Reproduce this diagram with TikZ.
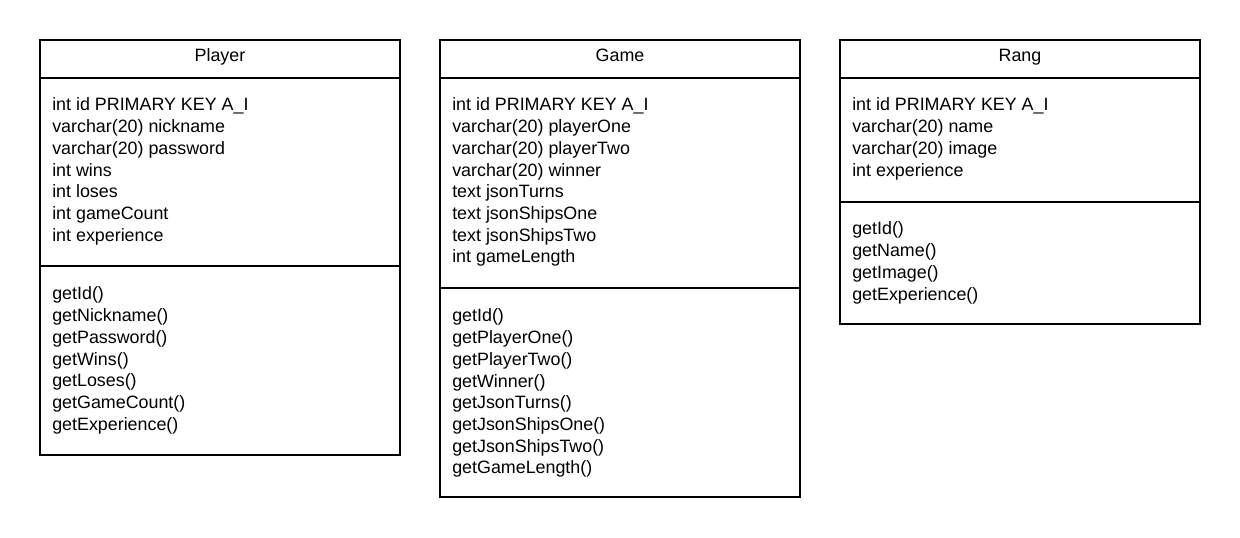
\documentclass[tikz,border=0pt]{standalone}
\usepackage{fontspec}
\setmainfont{Liberation Sans}
\tikzset{
  classbox/.style={draw, line width=1.5pt, minimum width=270pt, anchor=north west, inner sep=0pt, outer sep=0pt},
  divider/.style={line width=1.5pt},
  title/.style={anchor=base, inner sep=0pt, font=\fontsize{13.4}{15}\selectfont},
  member/.style={anchor=base west, inner sep=0pt, font=\fontsize{13.4}{15}\selectfont}
}
\begin{document}
\begin{tikzpicture}[x=0.75pt,y=-0.75pt]
  \useasboundingbox (0,0) rectangle (1240,538);
  % Player
  \node[classbox, minimum height=311.25pt] (player) at (40,40) {};
  \coordinate (pl-h) at (40,78);
  \coordinate (pl-m) at (40,266);
  \draw[divider] (pl-h) -- (pl-h -| player.east);
  \draw[divider] (pl-m) -- (pl-m -| player.east);
  \node[title] (pl-title) at (220,62) {Player};
  \foreach \txt [count=\i] in {int id PRIMARY KEY A\_I, varchar(20) nickname,
      varchar(20) password, int wins, int loses, int gameCount, int experience}
    \node[member] (pl-a\i) at (52,{111+21.7*(\i-1)}) {\txt};
  \foreach \txt [count=\i] in {getId(), getNickname(), getPassword(), getWins(),
      getLoses(), getGameCount(), getExperience()}
    \node[member] (pl-f\i) at (52,{300+21.7*(\i-1)}) {\txt};

  % Game
  \node[classbox, minimum height=342.75pt] (game) at (440,40) {};
  \coordinate (gm-h) at (440,78);
  \coordinate (gm-m) at (440,288);
  \draw[divider] (gm-h) -- (gm-h -| game.east);
  \draw[divider] (gm-m) -- (gm-m -| game.east);
  \node[title] (gm-title) at (620,62) {Game};
  \foreach \txt [count=\i] in {int id PRIMARY KEY A\_I, varchar(20) playerOne,
      varchar(20) playerTwo, varchar(20) winner, text jsonTurns,
      text jsonShipsOne, text jsonShipsTwo, int gameLength}
    \node[member] (gm-a\i) at (452,{111+21.7*(\i-1)}) {\txt};
  \foreach \txt [count=\i] in {getId(), getPlayerOne(), getPlayerTwo(), getWinner(),
      getJsonTurns(), getJsonShipsOne(), getJsonShipsTwo(), getGameLength()}
    \node[member] (gm-f\i) at (452,{322+21.7*(\i-1)}) {\txt};

  % Rang
  \node[classbox, minimum height=213pt] (rang) at (840,40) {};
  \coordinate (rg-h) at (840,78);
  \coordinate (rg-m) at (840,202);
  \draw[divider] (rg-h) -- (rg-h -| rang.east);
  \draw[divider] (rg-m) -- (rg-m -| rang.east);
  \node[title] (rg-title) at (1020,62) {Rang};
  \foreach \txt [count=\i] in {int id PRIMARY KEY A\_I, varchar(20) name,
      varchar(20) image, int experience}
    \node[member] (rg-a\i) at (852,{111+21.7*(\i-1)}) {\txt};
  \foreach \txt [count=\i] in {getId(), getName(), getImage(), getExperience()}
    \node[member] (rg-f\i) at (852,{235+21.7*(\i-1)}) {\txt};
\end{tikzpicture}
\end{document}
